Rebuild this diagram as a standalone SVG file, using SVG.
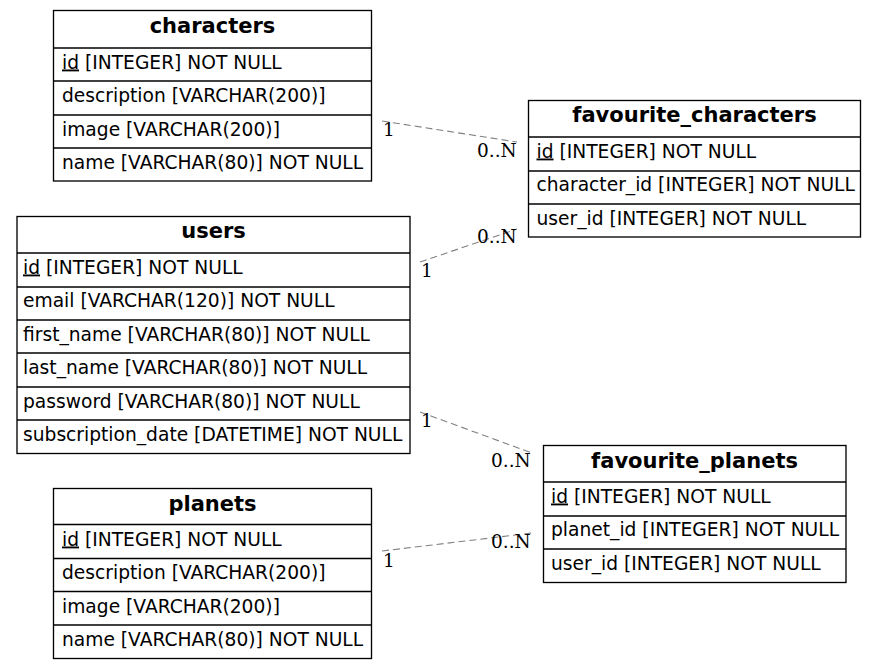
<svg xmlns="http://www.w3.org/2000/svg" width="876" height="669" viewBox="0 0 876 669">
<style>
.box{fill:none;stroke:#000;stroke-width:1.33}
.sep{stroke:#000;stroke-width:1.33}
.title{font-family:"DejaVu Sans",sans-serif;font-weight:bold;font-size:21px;text-anchor:middle;fill:#000}
.row{font-family:"DejaVu Sans",sans-serif;font-size:18.67px;fill:#000}
.edge{fill:none;stroke:#808080;stroke-width:1.1;stroke-dasharray:7,4}
.lbl{font-family:"DejaVu Serif",serif;font-size:18.5px;fill:#000}
.u{text-decoration:underline}
</style>
<rect width="876" height="669" fill="#fff"/>
<g id="connectors">
<line class="edge" x1="382" y1="121" x2="517" y2="142"/>
<text class="lbl" x="383" y="136">1</text>
<text class="lbl" x="477" y="157">0..N</text>
<line class="edge" x1="420" y1="262" x2="517" y2="229"/>
<text class="lbl" x="421" y="277">1</text>
<text class="lbl" x="477" y="243">0..N</text>
<line class="edge" x1="420" y1="412" x2="532" y2="453"/>
<text class="lbl" x="421" y="427">1</text>
<text class="lbl" x="491" y="467">0..N</text>
<line class="edge" x1="382" y1="551" x2="532" y2="533"/>
<text class="lbl" x="383" y="567">1</text>
<text class="lbl" x="491" y="548">0..N</text>
</g>
<g id="characters">
<rect class="box" x="53.5" y="10.5" width="318" height="170.5"/>
<line class="sep" x1="53.5" y1="48" x2="371.5" y2="48"/>
<line class="sep" x1="53.5" y1="81" x2="371.5" y2="81"/>
<line class="sep" x1="53.5" y1="115" x2="371.5" y2="115"/>
<line class="sep" x1="53.5" y1="148" x2="371.5" y2="148"/>
<text class="title" x="212.5" y="32.5">characters</text>
<text class="row" x="62" y="68.5"><tspan class="u">id</tspan> [INTEGER] NOT NULL</text>
<text class="row" x="62" y="101.5">description [VARCHAR(200)]</text>
<text class="row" x="62" y="135.5">image [VARCHAR(200)]</text>
<text class="row" x="62" y="168.5">name [VARCHAR(80)] NOT NULL</text>
</g>
<g id="favourite_characters">
<rect class="box" x="528.5" y="100.5" width="332" height="136.5"/>
<line class="sep" x1="528.5" y1="137" x2="860.5" y2="137"/>
<line class="sep" x1="528.5" y1="171" x2="860.5" y2="171"/>
<line class="sep" x1="528.5" y1="204" x2="860.5" y2="204"/>
<text class="title" x="694.5" y="122">favourite_characters</text>
<text class="row" x="536.5" y="157.5"><tspan class="u">id</tspan> [INTEGER] NOT NULL</text>
<text class="row" x="536.5" y="191">character_id [INTEGER] NOT NULL</text>
<text class="row" x="536.5" y="224.5">user_id [INTEGER] NOT NULL</text>
</g>
<g id="users">
<rect class="box" x="17" y="216.5" width="393" height="237"/>
<line class="sep" x1="17" y1="253" x2="410" y2="253"/>
<line class="sep" x1="17" y1="287" x2="410" y2="287"/>
<line class="sep" x1="17" y1="320" x2="410" y2="320"/>
<line class="sep" x1="17" y1="353" x2="410" y2="353"/>
<line class="sep" x1="17" y1="387" x2="410" y2="387"/>
<line class="sep" x1="17" y1="420" x2="410" y2="420"/>
<text class="title" x="213.5" y="238">users</text>
<text class="row" x="23" y="273.5"><tspan class="u">id</tspan> [INTEGER] NOT NULL</text>
<text class="row" x="23" y="307">email [VARCHAR(120)] NOT NULL</text>
<text class="row" x="23" y="340.5">first_name [VARCHAR(80)] NOT NULL</text>
<text class="row" x="23" y="374">last_name [VARCHAR(80)] NOT NULL</text>
<text class="row" x="23" y="407.5">password [VARCHAR(80)] NOT NULL</text>
<text class="row" x="23" y="441">subscription_date [DATETIME] NOT NULL</text>
</g>
<g id="favourite_planets">
<rect class="box" x="543.5" y="445.5" width="302.5" height="137"/>
<line class="sep" x1="543.5" y1="482" x2="846" y2="482"/>
<line class="sep" x1="543.5" y1="516" x2="846" y2="516"/>
<line class="sep" x1="543.5" y1="549" x2="846" y2="549"/>
<text class="title" x="694.5" y="467.5">favourite_planets</text>
<text class="row" x="551" y="502.5"><tspan class="u">id</tspan> [INTEGER] NOT NULL</text>
<text class="row" x="551" y="536">planet_id [INTEGER] NOT NULL</text>
<text class="row" x="551" y="569.5">user_id [INTEGER] NOT NULL</text>
</g>
<g id="planets">
<rect class="box" x="53.5" y="488.5" width="318" height="170"/>
<line class="sep" x1="53.5" y1="524.5" x2="371.5" y2="524.5"/>
<line class="sep" x1="53.5" y1="558.5" x2="371.5" y2="558.5"/>
<line class="sep" x1="53.5" y1="591.5" x2="371.5" y2="591.5"/>
<line class="sep" x1="53.5" y1="625" x2="371.5" y2="625"/>
<text class="title" x="212.5" y="510.5">planets</text>
<text class="row" x="62" y="545.5"><tspan class="u">id</tspan> [INTEGER] NOT NULL</text>
<text class="row" x="62" y="579">description [VARCHAR(200)]</text>
<text class="row" x="62" y="612.5">image [VARCHAR(200)]</text>
<text class="row" x="62" y="646">name [VARCHAR(80)] NOT NULL</text>
</g>
</svg>
